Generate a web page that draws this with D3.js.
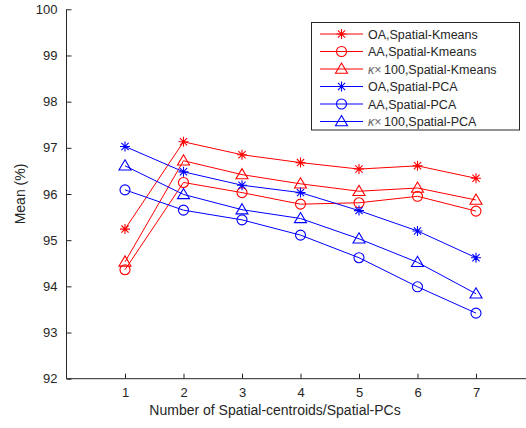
<!DOCTYPE html>
<html>
<head>
<meta charset="utf-8">
<script src="https://cdn.jsdelivr.net/npm/d3@7"></script>
<style>
  body { margin: 0; background: #fff; }
  svg text { font-family: "Liberation Sans", Arial, sans-serif; fill: #262626; }
</style>
</head>
<body>
<svg id="chart" width="526" height="428"></svg>
<script>
// data
const xs = [1, 2, 3, 4, 5, 6, 7];
const oaKmeans = [95.24, 97.13, 96.85, 96.68, 96.54, 96.61, 96.34];
const aaKmeans = [94.36, 96.25, 96.03, 95.78, 95.81, 95.95, 95.63];
const kappaKmeans = [94.53, 96.72, 96.42, 96.22, 96.06, 96.13, 95.87];
const oaPca = [97.03, 96.48, 96.19, 96.03, 95.64, 95.20, 94.62];
const aaPca = [96.09, 95.65, 95.44, 95.11, 94.62, 93.99, 93.42];
const kappaPca = [96.61, 95.99, 95.66, 95.47, 95.03, 94.52, 93.84];
const yTicks = [92, 93, 94, 95, 96, 97, 98, 99, 100];

const series = [
  { name: "OA,Spatial-Kmeans", values: oaKmeans, color: "#ff0000", marker: "star" },
  { name: "AA,Spatial-Kmeans", values: aaKmeans, color: "#ff0000", marker: "circle" },
  { name: "100,Spatial-Kmeans", kappa: true, values: kappaKmeans, color: "#ff0000", marker: "triangle" },
  { name: "OA,Spatial-PCA", values: oaPca, color: "#0000ff", marker: "star" },
  { name: "AA,Spatial-PCA", values: aaPca, color: "#0000ff", marker: "circle" },
  { name: "100,Spatial-PCA", kappa: true, values: kappaPca, color: "#0000ff", marker: "triangle" }
];

const svg = d3.select("#chart");
const axisColor = "#262626";

const x = d3.scaleLinear().domain([0, 8]).range([66.5, 534.5]);
const y = d3.scaleLinear().domain([92, 100]).range([378.7, 9.3]);

// axes (ticks pointing inward, like matlab)
const xAxis = svg.append("g")
  .attr("transform", "translate(0," + y(92) + ")")
  .call(d3.axisBottom(x).tickValues(xs).tickSize(-5).tickPadding(9).tickFormat(d3.format("d")));
const yAxis = svg.append("g")
  .attr("transform", "translate(" + x(0) + ",0)")
  .call(d3.axisLeft(y).tickValues(yTicks).tickSize(-5).tickPadding(9).tickFormat(d3.format("d")));

[xAxis, yAxis].forEach(function(a) {
  a.select(".domain").attr("stroke", axisColor).attr("stroke-width", 1);
  a.selectAll(".tick line").attr("stroke", axisColor);
  a.selectAll(".tick text").style("font-size", "13px").attr("fill", axisColor);
});
// no outer tick ends on the domain paths
xAxis.select(".domain").attr("d", "M" + x(0) + ",0H526");
yAxis.select(".domain").attr("d", "M0," + y(100) + "V" + y(92));

svg.append("text")
  .attr("x", 275)
  .attr("y", 415)
  .attr("text-anchor", "middle")
  .style("font-size", "14px")
  .text("Number of Spatial-centroids/Spatial-PCs");

svg.append("text")
  .attr("transform", "translate(25," + y(96) + ") rotate(-90)")
  .attr("text-anchor", "middle")
  .style("font-size", "14px")
  .text("Mean (%)");

function drawMarker(g, type, color, cx, cy) {
  if (type === "star") {
    const r = 5, d = r * 0.72;
    g.append("path")
      .attr("d",
        "M" + (cx - r) + "," + cy + "H" + (cx + r) +
        "M" + cx + "," + (cy - r) + "V" + (cy + r) +
        "M" + (cx - d) + "," + (cy - d) + "L" + (cx + d) + "," + (cy + d) +
        "M" + (cx - d) + "," + (cy + d) + "L" + (cx + d) + "," + (cy - d))
      .attr("stroke", color)
      .attr("stroke-width", 1.1)
      .attr("fill", "none");
  } else if (type === "circle") {
    g.append("circle")
      .attr("cx", cx).attr("cy", cy).attr("r", 5)
      .attr("stroke", color).attr("stroke-width", 1.1).attr("fill", "none");
  } else {
    const s = 6;
    g.append("path")
      .attr("d", "M" + cx + "," + (cy - s) + "L" + (cx + s) + "," + (cy + s * 0.7) + "L" + (cx - s) + "," + (cy + s * 0.7) + "Z")
      .attr("stroke", color).attr("stroke-width", 1.1).attr("fill", "none");
  }
}

const line = d3.line()
  .x(function(d, i) { return x(xs[i]); })
  .y(function(d) { return y(d); });

series.forEach(function(s) {
  const g = svg.append("g");
  g.append("path")
    .attr("d", line(s.values))
    .attr("fill", "none")
    .attr("stroke", s.color)
    .attr("stroke-width", 1);
  s.values.forEach(function(v, i) {
    drawMarker(g, s.marker, s.color, x(xs[i]), y(v));
  });
});

// legend
const legend = svg.append("g");
legend.append("rect")
  .attr("x", 311.5).attr("y", 22.5)
  .attr("width", 208).attr("height", 107.5)
  .attr("fill", "#fff")
  .attr("stroke", axisColor)
  .attr("stroke-width", 1);

series.forEach(function(s, i) {
  const cy = 34 + i * 17.5;
  legend.append("line")
    .attr("x1", 320).attr("x2", 363)
    .attr("y1", cy).attr("y2", cy)
    .attr("stroke", s.color).attr("stroke-width", 1);
  drawMarker(legend, s.marker, s.color, 341.5, cy);
  const t = legend.append("text")
    .attr("x", 368)
    .attr("y", cy + 4.5)
    .style("font-size", "12.5px");
  if (s.kappa) {
    t.append("tspan").style("font-style", "italic").attr("fill", "#666").text("\u03ba");
    t.append("tspan").attr("fill", "#666").text("\u00d7 ");
    t.append("tspan").attr("dx", -1).text(s.name);
  } else {
    t.text(s.name);
  }
});
</script>
</body>
</html>
